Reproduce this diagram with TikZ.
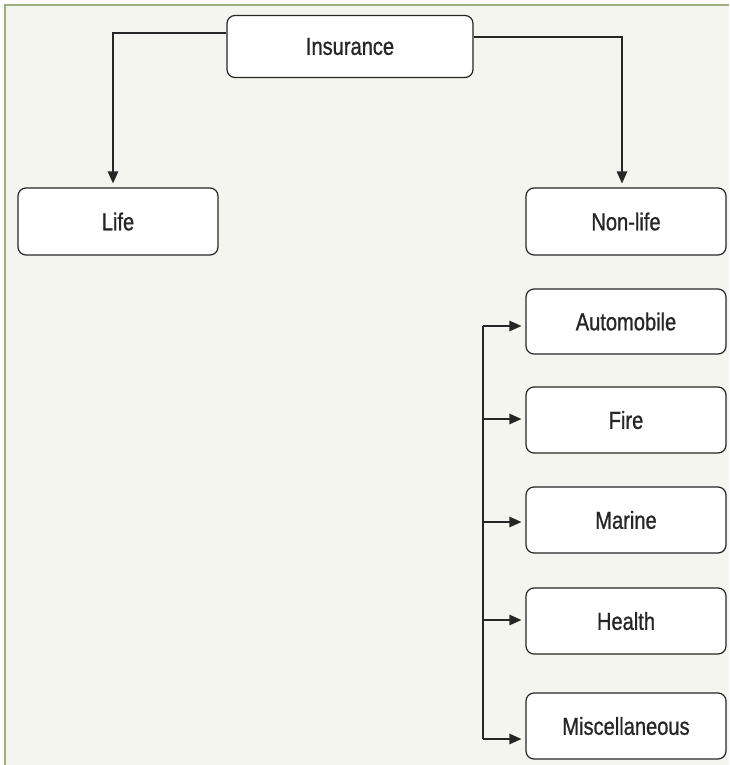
\documentclass[tikz,border=0pt]{standalone}
\usepackage{fontspec}
\setmainfont{Liberation Sans}[FakeStretch=0.82,FakeBold=0.9]
\usetikzlibrary{arrows.meta}
\definecolor{bgc}{HTML}{F5F5F0}
\definecolor{framec}{HTML}{9DAF7F}
\definecolor{linec}{HTML}{262626}
\tikzset{
  box/.style={draw=linec, fill=white, line width=1.2pt, rounded corners=8pt,
    minimum width=200pt, minimum height=66pt, inner sep=0pt,
    font=\fontsize{24.5}{28}\selectfont, text=linec},
  conn/.style={draw=linec, line width=1.3pt},
  arr/.style={conn, -{Triangle[length=12pt,width=10.5pt]}, shorten >=4pt}
}
\begin{document}
\begin{tikzpicture}[x=1pt,y=-1pt]
\useasboundingbox (0,0) rectangle (729,765);
\fill[white] (0,0) rectangle (729,765);
\fill[bgc] (5,5) rectangle (729,765);
\draw[framec, line width=1.6pt] (5,765) -- (5,5) -- (729,5);

\node[box, minimum width=246pt, minimum height=62pt] (ins) at (350,46.5) {Insurance};
\node[box, minimum height=67pt] (life) at (118,221.5) {Life};
\node[box, minimum height=67pt] (nonlife) at (626,221.5) {Non-life};
\node[box, minimum height=65pt] (auto) at (626,321.5) {Automobile};
\node[box] (fire) at (626,420) {Fire};
\node[box] (marine) at (626,520) {Marine};
\node[box] (health) at (626,621) {Health};
\node[box] (misc) at (626,726) {Miscellaneous};

\coordinate (lbend) at (113,33);
\coordinate (rbend) at (622,37);
\draw[arr] (ins.west |- lbend) -- (lbend) -- (lbend |- life.north);
\draw[arr] (ins.east |- rbend) -- (rbend) -- (rbend |- nonlife.north);

\coordinate (ttop) at (483,326);
\coordinate (tbot) at (483,739);
\draw[conn] (ttop) -- (tbot);
\draw[arr] (ttop) -- (auto.west |- ttop);
\draw[arr] (483,419) -- (fire.west |- 0,419);
\draw[arr] (483,522) -- (marine.west |- 0,522);
\draw[arr] (483,620) -- (health.west |- 0,620);
\draw[arr] (tbot) -- (misc.west |- tbot);
\end{tikzpicture}
\end{document}
